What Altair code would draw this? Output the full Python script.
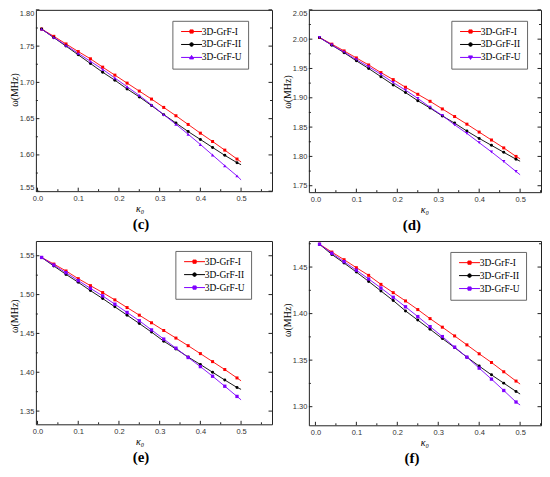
import altair as alt
import pandas as pd

# ---------------- data ----------------
kappa = [0.01, 0.04, 0.07, 0.10, 0.13, 0.16, 0.19, 0.22, 0.25, 0.28,
         0.31, 0.34, 0.37, 0.40, 0.43, 0.46, 0.49, 0.50]
series_names = ["3D-GrF-I", "3D-GrF-II", "3D-GrF-U"]
series_colors = ["#FF0000", "#000000", "#8000FF"]

# panel (c)
c_I = [1.7735, 1.7635, 1.7530, 1.7425, 1.7325, 1.7210, 1.7100, 1.6990, 1.6880, 1.6770,
       1.6655, 1.6540, 1.6420, 1.6300, 1.6185, 1.6066, 1.5943, 1.5902]
c_II = [1.7735, 1.7617, 1.7500, 1.7380, 1.7260, 1.7140, 1.7030, 1.6910, 1.6800, 1.6680,
        1.6555, 1.6440, 1.6322, 1.6213, 1.6103, 1.5994, 1.5893, 1.5865]
c_U = [1.7735, 1.7620, 1.7510, 1.7400, 1.7290, 1.7180, 1.7060, 1.6940, 1.6820, 1.6690,
       1.6555, 1.6422, 1.6285, 1.6144, 1.5998, 1.5851, 1.5710, 1.5656]
# panel (d)
d_I = [2.0028, 1.9915, 1.9800, 1.9680, 1.9560, 1.9430, 1.9310, 1.9180, 1.9060, 1.8940,
       1.8810, 1.8680, 1.8550, 1.8415, 1.8280, 1.8145, 1.8000, 1.7960]
d_II = [2.0028, 1.9898, 1.9770, 1.9630, 1.9500, 1.9360, 1.9220, 1.9090, 1.8950, 1.8825,
        1.8690, 1.8568, 1.8432, 1.8307, 1.8189, 1.8070, 1.7952, 1.7918]
d_U = [2.0028, 1.9900, 1.9780, 1.9650, 1.9530, 1.9400, 1.9260, 1.9130, 1.8990, 1.8838,
       1.8697, 1.8539, 1.8392, 1.8234, 1.8077, 1.7913, 1.7743, 1.7687]
# panel (e)
e_I = [1.5478, 1.5393, 1.5304, 1.5205, 1.5115, 1.5026, 1.4932, 1.4833, 1.4735, 1.4637,
       1.4538, 1.4440, 1.4342, 1.4240, 1.4137, 1.4035, 1.3927, 1.3890]
e_II = [1.5478, 1.5368, 1.5260, 1.5158, 1.5051, 1.4949, 1.4842, 1.4735, 1.4628, 1.4517,
        1.4400, 1.4300, 1.4196, 1.4100, 1.4000, 1.3900, 1.3804, 1.3780]
e_U = [1.5478, 1.5380, 1.5282, 1.5180, 1.5080, 1.4983, 1.4876, 1.4770, 1.4663, 1.4545,
       1.4427, 1.4310, 1.4190, 1.4073, 1.3949, 1.3820, 1.3689, 1.3645]
# panel (f)
f_I = [1.4745, 1.4661, 1.4579, 1.4493, 1.4411, 1.4314, 1.4225, 1.4136, 1.4043, 1.3946,
       1.3854, 1.3760, 1.3664, 1.3568, 1.3475, 1.3375, 1.3275, 1.3243]
f_II = [1.4745, 1.4636, 1.4543, 1.4446, 1.4346, 1.4243, 1.4140, 1.4029, 1.3930, 1.3832,
        1.3732, 1.3635, 1.3532, 1.3436, 1.3342, 1.3253, 1.3164, 1.3136]
f_U = [1.4745, 1.4648, 1.4558, 1.4466, 1.4372, 1.4275, 1.4175, 1.4073, 1.3968, 1.3860,
       1.3753, 1.3640, 1.3532, 1.3414, 1.3296, 1.3174, 1.3050, 1.3018]

x_ticks = [0.0, 0.1, 0.2, 0.3, 0.4, 0.5]
x_minor = [0.05, 0.15, 0.25, 0.35, 0.45, 0.55]
c_yticks = [1.55, 1.60, 1.65, 1.70, 1.75, 1.80]
c_yminor = [1.575, 1.625, 1.675, 1.725, 1.775]
d_yticks = [1.75, 1.80, 1.85, 1.90, 1.95, 2.00, 2.05]
d_yminor = [1.775, 1.825, 1.875, 1.925, 1.975, 2.025]
e_yticks = [1.35, 1.40, 1.45, 1.50, 1.55]
e_yminor = [1.375, 1.425, 1.475, 1.525]
f_yticks = [1.30, 1.35, 1.40, 1.45]
f_yminor = [1.325, 1.375, 1.425, 1.475]

# legend symbols: a line sample with the marker in its middle
LINE = "M-1,0H9.5"
SQ = "M3.45,-0.8H5.05V0.8H3.45Z"
CI = "M5.15,0A0.9,0.9 0 1,1 3.35,0A0.9,0.9 0 1,1 5.15,0Z"
TU = "M4.25,-1L5.25,0.75L3.25,0.75Z"
TD = "M4.25,1L5.25,-0.75L3.25,-0.75Z"

SANS = "Liberation Sans"
SERIF = "Liberation Serif"


def make_panel(I, II, U, xdom, ydom, ymaj, ymin, W, H, label, ushape, upath,
               legxy, xtitle_x, ytitle_y, flush):
    rows = []
    for name, vals in zip(series_names, [I, II, U]):
        for k, v in zip(kappa, vals):
            rows.append({"kappa": k, "omega": v, "series": name})
    df = pd.DataFrame(rows)
    mk = df[df["kappa"] < 0.495]

    xs = alt.Scale(domain=xdom, nice=False, zero=False)
    ys = alt.Scale(domain=ydom, nice=False, zero=False)
    cs = alt.Scale(domain=series_names, range=series_colors)

    xaxis = alt.Axis(values=x_ticks, format=".1f", ticks=False, domain=False, grid=False,
                     labelFont=SANS, labelFontSize=7.5, labelColor="#333", labelPadding=3,
                     title="κ₀", titleFont=SERIF, titleFontSize=10, titleFontStyle="italic",
                     titleFontWeight="normal", titleColor="black", titlePadding=2,
                     titleX=xtitle_x)
    yaxis = alt.Axis(values=ymaj, format=".2f", ticks=False, domain=False, grid=False,
                     labelFont=SANS, labelFontSize=7.5, labelColor="#333", labelPadding=2,
                     labelFlush=flush,
                     title="ω(MHz)", titleFont=SERIF, titleFontSize=10,
                     titleFontWeight="normal", titleColor="black", titlePadding=0,
                     titleY=ytitle_y)
    X = alt.X("kappa:Q", scale=xs, axis=xaxis)
    Y = alt.Y("omega:Q", scale=ys, axis=yaxis)

    # legend layer first, so that its (shown) legend wins the merge
    leg = alt.Legend(title=None, orient="none", legendX=legxy[0], legendY=legxy[1],
                     strokeColor="#666", fillColor="white", padding=6,
                     symbolSize=16, symbolStrokeWidth=1, symbolOpacity=1,
                     labelFont=SERIF, labelFontSize=9.5, labelColor="black",
                     labelOffset=14, rowPadding=2)
    paths = [LINE + SQ, LINE + CI, LINE + upath]
    legend_layer = alt.Chart(df).transform_filter("false").mark_point(
        filled=True, opacity=1, strokeWidth=1).encode(
        color=alt.Color("series:N", scale=cs, legend=leg),
        stroke=alt.Stroke("series:N", scale=cs, legend=leg),
        shape=alt.Shape("series:N", scale=alt.Scale(domain=series_names, range=paths),
                        legend=leg))

    lines = alt.Chart(df).mark_line(strokeWidth=0.9).encode(
        x=X, y=Y, color=alt.Color("series:N", scale=cs, legend=None))

    shapes = ["square", "circle", ushape]
    sizes = [9, 9, 11]
    markers = []
    for name, shp, sz in zip(series_names, shapes, sizes):
        markers.append(
            alt.Chart(mk).transform_filter(alt.datum.series == name)
            .mark_point(filled=True, opacity=1, size=sz, shape=shp)
            .encode(x=X, y=Y, color=alt.Color("series:N", scale=cs, legend=None)))

    ticks = []
    for vals, ln in [(x_ticks, 3.5), (x_minor, 2)]:
        d = pd.DataFrame({"v": [v for v in vals if xdom[0] <= v <= xdom[1]]})
        ticks.append(alt.Chart(d).mark_rule(color="#222", strokeWidth=1).encode(
            x=alt.X("v:Q", scale=xs, axis=xaxis), y=alt.value(H), y2=alt.value(H - ln)))
    for vals, ln in [(ymaj, 3.5), (ymin, 2)]:
        d = pd.DataFrame({"v": [v for v in vals if ydom[0] <= v <= ydom[1]]})
        ticks.append(alt.Chart(d).mark_rule(color="#222", strokeWidth=1).encode(
            y=alt.Y("v:Q", scale=ys, axis=yaxis), x=alt.value(0), x2=alt.value(ln)))
        ticks.append(alt.Chart(d).mark_rule(color="#222", strokeWidth=1).encode(
            y=alt.Y("v:Q", scale=ys, axis=yaxis), x=alt.value(W), x2=alt.value(W - ln)))

    return alt.layer(legend_layer, lines, *markers, *ticks).properties(
        width=W, height=H,
        title=alt.TitleParams(label, orient="bottom", frame="bounds", anchor="middle",
                              font=SERIF, fontSize=15, fontWeight="bold", color="black",
                              offset=3))


pc = make_panel(c_I, c_II, c_U, [-0.004, 0.576], [1.55, 1.80], c_yticks, c_yminor,
                237, 182, "(c)", "triangle-up", TU, (137, 11), 104, 80, True)
pd_ = make_panel(d_I, d_II, d_U, [-0.016, 0.551], [1.739, 2.05], d_yticks, d_yminor,
                 233, 183, "(d)", "triangle-down", TD, (143, 11), 116, 82, True)
pe = make_panel(e_I, e_II, e_U, [-0.004, 0.576], [1.333, 1.569], e_yticks, e_yminor,
                237, 184, "(e)", "square", SQ, (140, 10), 104, 75, False)
pf = make_panel(f_I, f_II, f_U, [-0.016, 0.551], [1.28, 1.478], f_yticks, f_yminor,
                233, 185, "(f)", "square", SQ, (142, 11), 116, 79, False)

IND = dict(color="independent", stroke="independent", shape="independent")

row1 = alt.hconcat(pc, pd_, spacing=8).resolve_scale(**IND).resolve_legend(**IND)
row2 = alt.hconcat(pe, pf, spacing=8).resolve_scale(**IND).resolve_legend(**IND)

chart = (
    alt.vconcat(row1, row2, spacing=7)
    .resolve_scale(**IND)
    .resolve_legend(**IND)
    .properties(padding=0)
    .configure_view(stroke="#222", strokeWidth=1)
)

chart.save("out.html", embed_options={"renderer": "svg", "actions": False})
